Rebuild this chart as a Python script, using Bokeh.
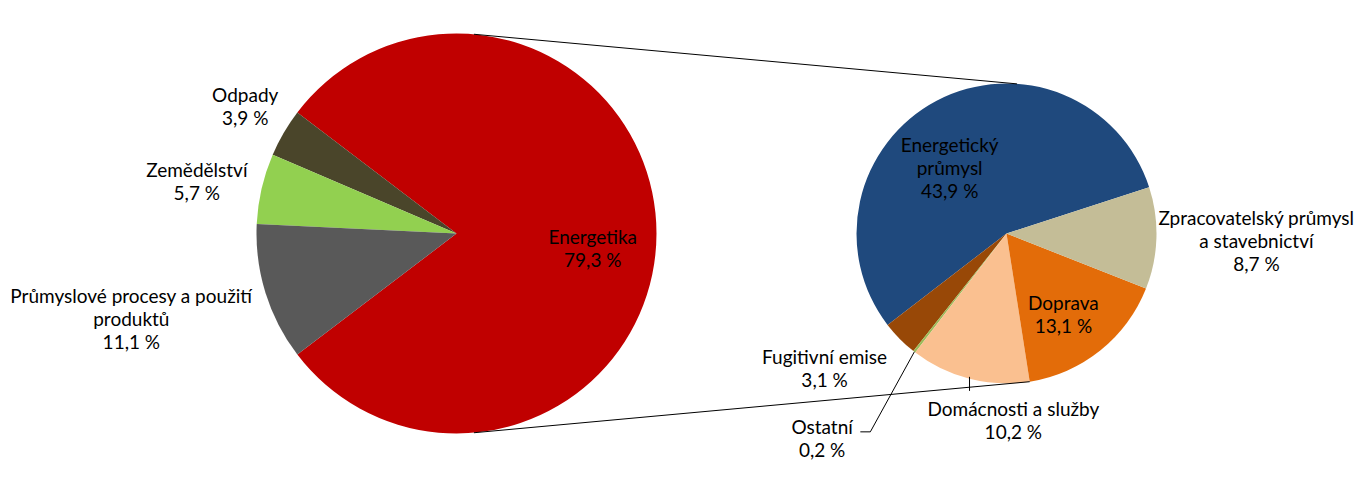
import numpy as np
from bokeh.plotting import figure
from bokeh.models import Range1d
from bokeh.core.properties import value
from bokeh.embed import file_html
from bokeh.resources import INLINE

# ---- data ----
main_labels = ["Energetika", "Odpady", "Zemědělství", "Průmyslové procesy a použití\nprodukt\u016f"]
main_values = [79.3, 3.9, 5.7, 11.1]
main_colors = ["#C00000", "#4A452A", "#92D050", "#595959"]

sub_labels = ["Energetický\nprůmysl", "Fugitivní emise", "Ostatní", "Domácnosti a služby",
              "Doprava", "Zpracovatelský průmysl\na stavebnictví"]
sub_values = [43.9, 3.1, 0.2, 10.2, 13.1, 8.7]
sub_colors = ["#1F497D", "#984807", "#9BBB59", "#FAC090", "#E36C09", "#C4BD97"]

# ---- layout ----
W, H = 1364, 470
C1, R1 = (456, 237), 200
C2, R2 = (1006, 237), 150
FONT = "Lato"
FS = "19px"

p = figure(width=W, height=H, x_range=Range1d(0, W), y_range=Range1d(0, H),
           output_backend="svg", toolbar_location=None, min_border=0)
p.axis.visible = False
p.grid.visible = False
p.outline_line_color = None


def angles(vals, start_deg):
    fr = np.array(vals) / np.sum(vals) * 2 * np.pi
    s = np.deg2rad(start_deg) + np.concatenate([[0], np.cumsum(fr)[:-1]])
    e = s + fr
    return s, e


# main pie: Energetika centred on the +x axis
ms, me = angles(main_values, -main_values[0] / sum(main_values) * 180)
p.wedge(x=C1[0], y=C1[1], radius=R1, radius_units="screen",
        start_angle=ms, end_angle=me, color=main_colors, line_color=None)

# secondary pie
ss, se = angles(sub_values, 18.0)
p.wedge(x=C2[0], y=C2[1], radius=R2, radius_units="screen",
        start_angle=ss, end_angle=se, color=sub_colors, line_color=None)


def pt(c, r, deg):
    a = np.deg2rad(deg)
    return c[0] + r * np.cos(a), c[1] + r * np.sin(a)


# connector lines
t1, t2 = pt(C1, R1, 85), pt(C2, R2, 86)
b1, b2 = pt(C1, R1, -85), pt(C2, R2, np.rad2deg(se[3]))
p.segment(x0=[t1[0], b1[0]], y0=[t1[1], b1[1]], x1=[t2[0], b2[0]], y1=[t2[1], b2[1]],
          line_color="black", line_width=1)

# labels: polar placement (distance, angle) from the pie centre
main_pos = [(137, -5.9), (247, 148.8), (265, 168.5), (336, 194.6)]
sub_pos = [(87, 130.8), (226, 216.4), (275, 227.9), (187, -87.9), (99, -54.9), (250, -1.6)]

lx, ly, lt = [], [], []
for lab, v, (d, a) in zip(main_labels, main_values, main_pos):
    x, y = pt(C1, d, a)
    lx.append(x); ly.append(y); lt.append(f"{lab}\n{v:.1f} %".replace(".", ","))
for lab, v, (d, a) in zip(sub_labels, sub_values, sub_pos):
    x, y = pt(C2, d, a)
    lx.append(x); ly.append(y); lt.append(f"{lab}\n{v:.1f} %".replace(".", ","))

p.text(x=lx, y=ly, text=lt, text_align="center", text_baseline="middle",
       text_font=value(FONT), text_font_size=FS, text_color="black",
       text_line_height=1.0)

# leader lines
m3 = np.rad2deg((ss[3] + se[3]) / 2)
q = pt(C2, R2, m3)
p.line(x=[q[0], q[0]], y=[q[1] + 2, q[1] - 12], line_color="black", line_width=1)
m2 = np.rad2deg((ss[2] + se[2]) / 2)
q = pt(C2, R2, m2)
p.line(x=[q[0], q[0] - 44, q[0] - 54], y=[q[1], q[1] - 80, q[1] - 80],
       line_color="black", line_width=1)

open("out.html", "w").write(file_html(p, INLINE))
